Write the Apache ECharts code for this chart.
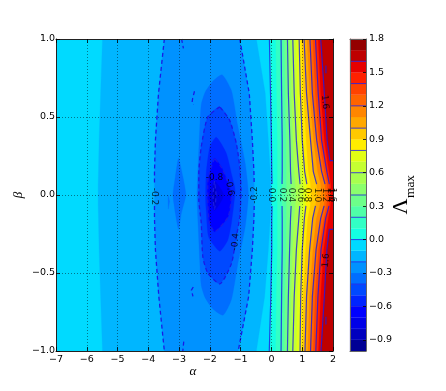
<!DOCTYPE html>
<html><head><meta charset="utf-8">
<style>html,body{margin:0;padding:0;background:#fff}#c{width:446px;height:391px}</style>
<script src="https://cdn.jsdelivr.net/npm/echarts@6/dist/echarts.min.js"></script>
</head><body><div id="c"></div>
<script>
// ---------- data ----------
const alphaTicks = [-7,-6,-5,-4,-3,-2,-1,0,1,2];
const betaTicks = [-1,-0.5,0,0.5,1];
const colorbarTicks = [-0.9,-0.6,-0.3,0,0.3,0.6,0.9,1.2,1.5,1.8];
const bandLows = [-1,-0.9,-0.8,-0.7,-0.6,-0.5,-0.4,-0.3,-0.2,-0.1,0,0.1,0.2,0.3,0.4,0.5,0.6,0.7,0.8,0.9,1,1.1,1.2,1.3,1.4,1.5,1.6,1.7];
const bandColors = ['#000094','#0000BE','#0000E7','#0000FF','#0024FF','#0049FF','#006EFF','#0092FF','#00B6FF','#00DAFF','#14FFE2','#32FFC5','#4FFFA8','#6DFF8A','#8BFF6D','#A8FF4F','#C5FF32','#E2FF14','#FFED00','#FFC900','#FFA800','#FF8600','#FF6400','#FF4300','#FF2100','#E70000','#BE0000','#940000'];
const lineLevels = [-0.8,-0.6,-0.4,-0.2,0,0.2,0.4,0.6,0.8,1,1.2,1.4,1.6];

const rows = [1,0.65,0.35,0.15,0.07,0,-0.07,-0.15,-0.35,-0.65,-1];
const minus01Left  = [-5.49,-5.55,-5.6,-5.62,-5.63,-5.63,-5.63,-5.62,-5.6,-5.55,-5.49];
const minus01Right = [-0.49,-0.2,-0.1,-0.04,-0.02,-0.02,-0.02,-0.04,-0.1,-0.22,-0.49];
const minus02Left  = [-3.48,-3.67,-3.77,-3.8,-3.8,-3.8,-3.8,-3.8,-3.77,-3.66,-3.48];
const minus02Right = [-1.03,-0.72,-0.62,-0.57,-0.56,-0.56,-0.56,-0.57,-0.62,-0.74,-1.08];
const level00 = [-0.066,-0.03,0,0.01,0.02,0.02,0.02,0.01,0.01,-0.02,-0.07];
const level01 = [0.14,0.17,0.19,0.19,0.19,0.19,0.19,0.19,0.19,0.16,0.14];
const level02 = [0.313,0.33,0.35,0.35,0.345,0.345,0.345,0.35,0.35,0.33,0.313];
const level03 = [0.42,0.45,0.48,0.49,0.49,0.49,0.49,0.49,0.48,0.44,0.42];
const level04 = [0.52,0.55,0.6,0.62,0.64,0.64,0.64,0.62,0.59,0.55,0.52];
const level05 = [0.61,0.65,0.7,0.74,0.78,0.8,0.78,0.74,0.69,0.64,0.61];
const level06 = [0.694,0.74,0.81,0.89,0.93,0.94,0.92,0.89,0.81,0.74,0.694];
const level07 = [0.8,0.84,0.92,1,1.04,1.05,1.03,1,0.91,0.84,0.82];
const level08 = [0.9,0.94,1,1.08,1.15,1.16,1.12,1.07,1,0.95,0.93];
const level09 = [0.98,1.04,1.13,1.2,1.27,1.29,1.26,1.18,1.11,1.03,1.01];
const level10 = [1.06,1.14,1.27,1.36,1.47,1.48,1.43,1.34,1.24,1.14,1.09];
const level11 = [1.16,1.24,1.37,1.5,1.6,1.62,1.57,1.46,1.35,1.24,1.18];
const level12 = [1.25,1.33,1.47,1.63,1.74,1.74,1.71,1.6,1.45,1.33,1.27];
const level13 = [1.34,1.43,1.55,1.72,1.81,1.82,1.79,1.7,1.53,1.42,1.36];
const level14 = [1.43,1.52,1.63,1.8,1.88,1.9,1.87,1.76,1.61,1.51,1.44];
const level15 = [1.52,1.6,1.72,1.87,1.93,1.95,1.92,1.85,1.7,1.6,1.53];
const level16Top = [[1.6,1],[1.72,0.65],[1.81,0.35],[1.9,0.22],[2,0.22]];
const level16Bottom = [[2,-0.22],[1.88,-0.22],[1.8,-0.35],[1.72,-0.65],[1.61,-1]];

const minus03 = [[-1.6,0.77],[-1.9,0.73],[-2.15,0.66],[-2.28,0.58],[-2.33,0.42],[-2.38,0.2],[-2.42,0],[-2.38,-0.2],[-2.33,-0.42],[-2.28,-0.58],[-2.15,-0.66],[-1.9,-0.73],[-1.57,-0.77],[-1.3,-0.67],[-1.1,-0.45],[-0.85,-0.2],[-0.75,0],[-0.85,0.2],[-1.1,0.45],[-1.3,0.67]];
const minus03Lens = [[-3.02,0.235],[-3.12,0.12],[-3.2,0],[-3.12,-0.12],[-3.02,-0.22],[-2.93,-0.12],[-2.78,0],[-2.88,0.12]];
const minus03Sliver = [[-3.36,0],[-3.31,-0.04],[-3.35,-0.09]];
const minus04 = [[-1.68,0.565],[-2.07,0.5],[-2.28,0.31],[-2.36,0.14],[-2.36,-0.03],[-2.28,-0.18],[-2.23,-0.395],[-2.07,-0.5],[-1.68,-0.57],[-1.3,-0.44],[-1.17,-0.3],[-1.03,-0.14],[-0.99,0.03],[-1.03,0.18],[-1.14,0.33],[-1.36,0.48]];
const minus05 = [[-1.79,0.37],[-2,0.31],[-2.12,0.14],[-2.14,-0.03],[-2.12,-0.1],[-2.04,-0.27],[-1.68,-0.36],[-1.42,-0.29],[-1.3,-0.18],[-1.18,0.03],[-1.28,0.12],[-1.47,0.27]];
const minus06 = [[-1.85,0.235],[-1.97,0.17],[-2.07,0.08],[-2.07,-0.03],[-2.02,-0.17],[-1.85,-0.235],[-1.41,-0.14],[-1.3,0],[-1.36,0.05],[-1.6,0.17]];
const minus07 = [[-1.85,0.09],[-2.02,0],[-1.85,-0.1],[-1.55,0]];
const minus08 = [[-1.85,0.09],[-1.9,0],[-1.85,-0.09],[-1.8,0]];
const loopTopA = [[-2.5,0.665],[-2.56,0.62],[-2.58,0.59],[-2.53,0.58]];
const loopBottomA = [[-2.54,-0.59],[-2.6,-0.61],[-2.55,-0.65]];
const arcTop = [[-2.92,1],[-2.86,0.94]];
const arcBottom = [[-2.85,-0.94],[-2.88,-1]];
const tickTop = [[1.77,0.83],[1.77,0.78]];
const tickBottom = [[1.77,-0.78],[1.77,-0.83]];

const labelText  = ['-0.2','-0.2','-0.4','-0.6','-0.8','0.0','0.2','0.4','0.6','0.8','1.0','1.2','1.4','1.6','1.6','1.6'];
const labelAlpha = [-3.8,-0.56,-1.17,-1.36,-1.85,0.01,0.37,0.65,0.95,1.17,1.48,1.74,1.92,1.98,1.74,1.77];
const labelBeta  = [-0.01,0,-0.3,0.05,0.11,0,0,0,0,0,0,0,0,0,0.595,-0.42];
const labelTurn  = [-90,90,85,-80,0,-90,-90,-90,-90,-90,-90,-90,-90,-90,-85,85];

// ---------- assembly ----------
const pairs = (col) => col.map((a,i)=>[a,rows[i]]);
const color = (low) => bandColors[bandLows.indexOf(low)];
const ring = (l,r) => pairs(l).concat(pairs(r).reverse());
const rightRegion = (col) => pairs(col).concat([[2,-1],[2,1]]);

const regions = [
 {p:[[-7,1],[-7,-1],[2,-1],[2,1]],c:color(-0.1)},
 {p:ring(minus01Left,minus01Right),c:color(-0.2)},
 {p:ring(minus02Left,minus02Right),c:color(-0.3)},
 {p:minus03Lens,c:color(-0.4),s:0.15},
 {p:minus03Sliver,c:color(-0.4)},
 {p:minus03,c:color(-0.4),s:0.2},
 {p:minus04,c:color(-0.5),s:0.2},
 {p:minus05,c:color(-0.6),s:0.2},
 {p:minus06,c:color(-0.7),s:0.2},
 {p:minus07,c:color(-0.8),s:0.2},
 {p:minus08,c:color(-0.9),s:0.2}
];
[level00,level01,level02,level03,level04,level05,level06,level07,level08,level09,level10,level11,level12,level13,level14,level15].forEach((col,i)=>{
  regions.push({p:rightRegion(col),c:bandColors[10+i]});
});
regions.push({p:level16Top.concat([[2,1]]),c:color(1.6)});
regions.push({p:level16Bottom.concat([[2,-1]]),c:color(1.6)});

const contourBlue = '#1a1ae6';
const lineSeries = (pts,dashed,smooth) => ({
  type:'line',xAxisIndex:0,yAxisIndex:0,data:pts,showSymbol:false,symbol:'none',smooth:smooth||0,z:3,silent:true,
  lineStyle:{color:contourBlue,width:dashed?1.3:1.2,type:dashed?[4,3]:'solid',opacity:dashed?1:0.8},
  animation:false
});
const split = (col) => {
  const p = pairs(col);
  return [p.slice(0,5),p.slice(6)];
};
const closed = (p) => p.concat([p[0]]);
const series = [];
series.push({
  type:'custom',xAxisIndex:0,yAxisIndex:0,z:1,silent:true,animation:false,clip:true,
  data:regions.map((r,i)=>[i]),
  encode:{x:-1,y:-1},
  renderItem:(params,api)=>{
    const r = regions[api.value(0)];
    return {type:'polygon',shape:{points:r.p.map(q=>api.coord(q)),smooth:r.s||0},style:{fill:r.c,stroke:r.c,lineWidth:0.3}};
  }
});
[level00,level02,level04,level06,level08,level10,level12,level14].forEach(col=>{
  split(col).forEach(s=>series.push(lineSeries(s,false)));
});
series.push(lineSeries(level16Top,false));
series.push(lineSeries(level16Bottom,false));
series.push(lineSeries(tickTop,false));
series.push(lineSeries(tickBottom,false));
split(minus02Left).forEach(s=>series.push(lineSeries(s,true)));
split(minus02Right).forEach(s=>series.push(lineSeries(s,true)));
[minus04,minus06,minus08].forEach(p=>series.push(lineSeries(closed(p),true,0.2)));
[loopTopA,loopBottomA,arcTop,arcBottom].forEach(p=>series.push(lineSeries(p,true)));

series.push({
  type:'scatter',xAxisIndex:0,yAxisIndex:0,z:6,silent:true,animation:false,symbolSize:1,
  itemStyle:{color:'transparent'},
  data:labelText.map((t,i)=>({value:[labelAlpha[i],labelBeta[i]],label:{show:true,position:'inside',formatter:t,rotate:labelTurn[i],fontSize:9,color:'#000',fontFamily:'DejaVu Sans'}}))
});
// colour bar
series.push({
  type:'custom',xAxisIndex:2,yAxisIndex:2,z:1,silent:true,animation:false,
  data:bandLows.map((v,i)=>[i,v]),
  encode:{y:1},
  renderItem:(params,api)=>{
    const i = api.value(0), low = api.value(1);
    const a = api.coord([0,low+0.1]), b = api.coord([1,low]);
    return {type:'rect',shape:{x:a[0],y:a[1],width:b[0]-a[0],height:b[1]-a[1]},style:{fill:bandColors[i],stroke:bandColors[i],lineWidth:0.2}};
  }
});
series.push({
  type:'custom',xAxisIndex:2,yAxisIndex:2,z:2,silent:true,animation:false,
  data:lineLevels.map(v=>[v]),
  encode:{y:0},
  renderItem:(params,api)=>{
    const v = api.value(0);
    const a = api.coord([0,v]), b = api.coord([1,v]);
    return {type:'line',shape:{x1:a[0],y1:a[1],x2:b[0],y2:b[1]},style:{stroke:contourBlue,lineWidth:1,opacity:0.8}};
  }
});

const frame = {show:true,onZero:false,lineStyle:{color:'#222',width:1}};
const dots = {show:true,lineStyle:{color:'#000',type:[1,2],width:1,opacity:0.45}};
const labelStyle = {fontSize:9.5,color:'#000',fontFamily:'DejaVu Sans'};
const tick = {show:true,inside:true,length:4,lineStyle:{color:'#000',width:0.8}};
const signed = (v,d) => (d?v.toFixed(d):String(v)).replace('-','\u2212');

const option = {
  backgroundColor:'#fff',animation:false,
  grid:[{left:56,top:39,width:277,height:312,containLabel:false},{left:350,top:39,width:16,height:312,containLabel:false}],
  xAxis:[
    {type:'value',gridIndex:0,position:'bottom',min:alphaTicks[0],max:alphaTicks[alphaTicks.length-1],interval:1,z:5,axisLine:frame,axisTick:tick,splitLine:dots,
     axisLabel:{...labelStyle,margin:4,formatter:v=>signed(v,0),hideOverlap:false}},
    {type:'value',gridIndex:0,position:'top',min:-7,max:2,interval:1,z:5,axisLine:frame,axisTick:tick,splitLine:{show:false},axisLabel:{show:false}},
    {type:'value',gridIndex:1,position:'bottom',min:0,max:1,z:5,axisLine:{show:true,onZero:false,lineStyle:{color:'#666',width:1}},axisTick:{show:false},splitLine:{show:false},axisLabel:{show:false}},
    {type:'value',gridIndex:1,position:'top',min:0,max:1,z:5,axisLine:{show:true,onZero:false,lineStyle:{color:'#666',width:1}},axisTick:{show:false},splitLine:{show:false},axisLabel:{show:false}}
  ],
  yAxis:[
    {type:'value',gridIndex:0,position:'left',min:betaTicks[0],max:betaTicks[betaTicks.length-1],interval:0.5,z:5,axisLine:frame,axisTick:tick,splitLine:dots,
     axisLabel:{...labelStyle,margin:1,formatter:v=>signed(v,1)}},
    {type:'value',gridIndex:0,position:'right',min:-1,max:1,interval:0.5,z:5,axisLine:frame,axisTick:tick,splitLine:{show:false},axisLabel:{show:false}},
    {type:'value',gridIndex:1,position:'right',min:-1,max:1.8,z:5,axisLine:{show:true,onZero:false,lineStyle:{color:'#666',width:1}},
     axisTick:{show:true,inside:true,length:3,customValues:colorbarTicks,lineStyle:{color:'#000',width:0.8}},splitLine:{show:false},
     axisLabel:{...labelStyle,margin:3,customValues:colorbarTicks,formatter:v=>signed(v,1)}},
    {type:'value',gridIndex:1,position:'left',min:-1,max:1.8,z:5,axisLine:{show:true,onZero:false,lineStyle:{color:'#666',width:1}},axisTick:{show:false},splitLine:{show:false},axisLabel:{show:false}}
  ],
  series:series,
  graphic:[
    {type:'text',x:193,y:372,z:20,style:{text:'\u03b1',font:'italic 13px "Liberation Serif"',fill:'#000',textAlign:'center',textVerticalAlign:'middle'}},
    {type:'text',x:19,y:195,z:20,rotation:Math.PI/2,style:{text:'\u03b2',font:'italic 13px "Liberation Serif"',fill:'#000',textAlign:'center',textVerticalAlign:'middle'}},
    {type:'text',x:401,y:206.5,z:20,rotation:Math.PI/2,style:{text:'\u039b',font:'22px "Liberation Serif"',fill:'#000',textAlign:'center',textVerticalAlign:'middle'}},
    {type:'text',x:410,y:186.5,z:20,rotation:Math.PI/2,style:{text:'max',font:'13.5px "Liberation Serif"',fill:'#000',textAlign:'center',textVerticalAlign:'middle'}}
  ]
};
echarts.init(document.getElementById('c'),null,{renderer:'canvas'}).setOption(option);
</script>
</body></html>
